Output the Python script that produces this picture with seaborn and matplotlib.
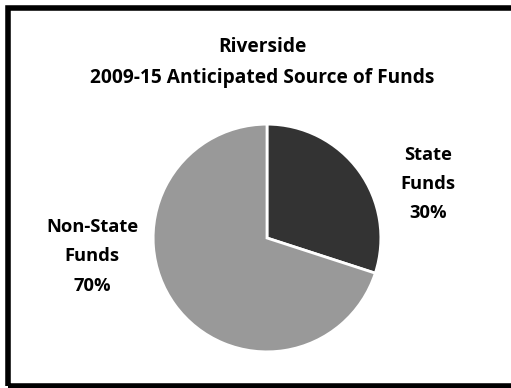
import matplotlib
matplotlib.use("Agg")
import matplotlib.pyplot as plt
import seaborn as sns
from matplotlib.patches import Rectangle

categories = ["State\nFunds", "Non-State\nFunds"]
values = [30, 70]
pct_labels = ["30%", "70%"]
title_lines = ["Riverside", "2009-15 Anticipated Source of Funds"]

sns.set_theme(style="white")
plt.rcParams['font.family'] = ['Open Sans', 'DejaVu Sans']

W, H = 511, 388
fig = plt.figure(figsize=(W / 100, H / 100), dpi=100)
fig.patch.set_facecolor("white")

cx, cy, r = 267, 238, 115
ax = fig.add_axes([(cx - r) / W, (H - cy - r) / H, 2 * r / W, 2 * r / H])
colors = ["#333333", "#999999"]
ax.pie(values, colors=colors, startangle=90, counterclock=False,
       wedgeprops=dict(edgecolor="white", linewidth=2))
ax.set_xlim(-1.01, 1.01)
ax.set_ylim(-1.01, 1.01)
ax.set_aspect("equal")

fs_title = 13.8
fs = 13.2
# title
fig.text(262 / W, 1 - 47 / H, title_lines[0], ha="center", va="center",
         fontsize=fs_title, fontweight="bold", color="black")
fig.text(262 / W, 1 - 78 / H, title_lines[1], ha="center", va="center",
         fontsize=fs_title, fontweight="bold", color="black")

# labels
label_pos = [(428, [155, 184, 213]), (92, [227, 256, 286])]
for cat, pct, (x, ys) in zip(categories, pct_labels, label_pos):
    lines = cat.split("\n") + [pct]
    for line, y in zip(lines, ys):
        fig.text(x / W, 1 - y / H, line, ha="center", va="center",
                 fontsize=fs, fontweight="bold", color="black")

# border
fig.patches.append(Rectangle((7.5 / W, 2.5 / H), 1.0, 1 - 10 / H,
                             transform=fig.transFigure, fill=False,
                             edgecolor="black", linewidth=4, zorder=10))

fig.savefig("out.png", dpi=100, facecolor="white")
